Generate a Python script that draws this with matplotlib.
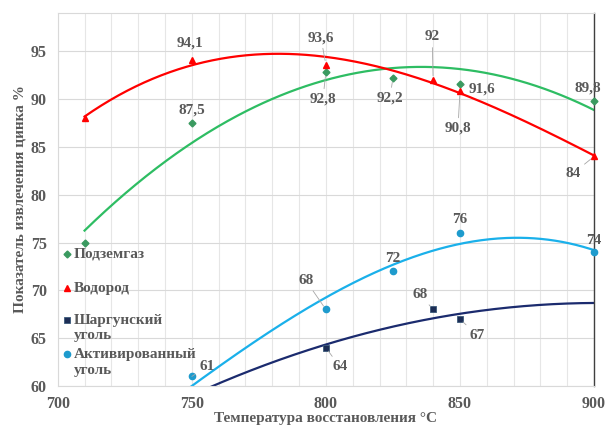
import numpy as np
import matplotlib
matplotlib.use("Agg")
import matplotlib.pyplot as plt

# ---------------- data ----------------
x_podzemgaz = [710, 750, 800, 825, 850, 900]
y_podzemgaz = [75, 87.5, 92.8, 92.2, 91.6, 89.8]

x_hydrogen = [710, 750, 800, 840, 850, 900]
y_hydrogen = [88, 94.1, 93.6, 92, 90.8, 84]

x_shargun = [800, 840, 850]
y_shargun = [64, 68, 67]

x_active = [750, 800, 825, 850, 900]
y_active = [61, 68, 72, 76, 74]

# trend lines of the two coal series
x_shargun_trend = [758, 800, 850, 900]
y_shargun_trend = [60.0, 64.4, 67.5, 68.7]
x_active_trend = [750, 800, 825, 850, 870, 900]
y_active_trend = [60.0, 69.3, 72.6, 74.9, 75.5, 74.2]

legend_labels = ["Подземгаз", "Водород", "Шаргунский\nуголь", "Активированный\nуголь"]
x_label = "Температура восстановления °C"
y_label = "Показатель извлечения цинка %"

# ---------------- style ----------------
plt.rcParams['font.family'] = ['Liberation Serif', 'DejaVu Serif']
txt_col = "#595959"
fs = 11

fig = plt.figure(figsize=(6.08, 4.29), dpi=100)
ax = fig.add_axes([0.095, 0.1002, 0.882, 0.8695])
ax.set_xlim(700, 900)
ax.set_ylim(60, 99)

ax.set_xticks(np.arange(700, 901, 50))
ax.set_xticks(np.arange(700, 901, 10), minor=True)
ax.set_yticks(np.arange(60, 96, 5))
ax.grid(axis='x', which='both', color='#e6e6e6', lw=0.8)
ax.grid(axis='y', which='major', color='#d9d9d9', lw=0.8)
ax.set_axisbelow(True)
ax.tick_params(which='both', length=0)
ax.tick_params(axis='x', pad=7)
ax.tick_params(axis='y', pad=8)
for lab in ax.get_xticklabels() + ax.get_yticklabels():
    lab.set_fontweight('bold')
    lab.set_color(txt_col)
    lab.set_fontsize(11.5)
for s in ['left', 'top', 'bottom']:
    ax.spines[s].set_color('#d9d9d9')
    ax.spines[s].set_linewidth(0.8)
ax.spines['right'].set_color('#404040')
ax.spines['right'].set_linewidth(1.0)

ax.set_xlabel(x_label, fontsize=11, fontweight='bold', color=txt_col, labelpad=0)
ax.set_ylabel(y_label, fontsize=11, fontweight='bold', color=txt_col, labelpad=3)

# ---------------- trend lines ----------------
def trend(xs, ys, deg, x0, x1):
    c = np.polyfit(xs, ys, deg)
    xx = np.linspace(x0, x1, 300)
    return xx, np.polyval(c, xx)

c_green_line, c_green_mk = '#2ebd63', '#3a9a60'
c_red = '#ff0000'
c_navy_line, c_navy_mk = '#1b2b6e', '#1c2d55'
c_blue_line, c_blue_mk = '#1ab0ea', '#1e9bcd'

xx, yy = trend(x_podzemgaz, y_podzemgaz, 2, 710, 900)
ax.plot(xx, yy, color=c_green_line, lw=1.6)
xx, yy = trend(x_hydrogen, y_hydrogen, 3, 710, 900)
ax.plot(xx, yy, color=c_red, lw=1.6)
xx, yy = trend(x_active_trend, y_active_trend, 3, 745, 900)
ax.plot(xx, yy, color=c_blue_line, lw=1.6)
xx, yy = trend(x_shargun_trend, y_shargun_trend, 2, 740, 900)
ax.plot(xx, yy, color=c_navy_line, lw=1.6)

# ---------------- markers ----------------
mk_green = dict(marker='D', color=c_green_mk, ms=3.5)
mk_red = dict(marker='^', color=c_red, ms=5)
mk_navy = dict(marker='s', color=c_navy_mk, mec='#3b5a7a', mew=0.6, ms=4)
mk_blue = dict(marker='o', color=c_blue_mk, ms=4.5)

ax.plot(x_podzemgaz, y_podzemgaz, ls='none', clip_on=False, zorder=5, **mk_green)
ax.plot(x_hydrogen, y_hydrogen, ls='none', clip_on=False, zorder=5, **mk_red)
ax.plot(x_shargun, y_shargun, ls='none', clip_on=False, zorder=5, **mk_navy)
ax.plot(x_active, y_active, ls='none', clip_on=False, zorder=5, **mk_blue)

# ---------------- data labels ----------------
def fmt(v):
    return f"{v:g}".replace('.', ',')

lead = dict(arrowstyle='-', color='#a6a6a6', lw=0.6, shrinkA=1, shrinkB=3)

# (series x, series y, index, offset px (dx, dy up), leader)
label_specs = [
    (x_hydrogen, y_hydrogen, 1, (-2, 17), False),
    (x_hydrogen, y_hydrogen, 2, (-5, 27), True),
    (x_hydrogen, y_hydrogen, 3, (-1, 43), True),
    (x_hydrogen, y_hydrogen, 4, (-2, -37), True),
    (x_hydrogen, y_hydrogen, 5, (-21, -17), True),
    (x_podzemgaz, y_podzemgaz, 1, (0, 13), False),
    (x_podzemgaz, y_podzemgaz, 2, (-3, -27), True),
    (x_podzemgaz, y_podzemgaz, 3, (-3, -20), True),
    (x_podzemgaz, y_podzemgaz, 4, (22, -5), True),
    (x_podzemgaz, y_podzemgaz, 5, (-6, 13), False),
    (x_active, y_active, 0, (15, 10), True),
    (x_active, y_active, 1, (-20, 29), True),
    (x_active, y_active, 2, (0, 13), False),
    (x_active, y_active, 3, (0, 13), False),
    (x_active, y_active, 4, (0, 12), False),
    (x_shargun, y_shargun, 0, (14, -19), True),
    (x_shargun, y_shargun, 1, (-13, 15), True),
    (x_shargun, y_shargun, 2, (17, -16), True),
]
for xs, ys, i, (dx, dy), has_lead in label_specs:
    ax.annotate(fmt(ys[i]), xy=(xs[i], ys[i]), xytext=(dx, dy), textcoords='offset pixels',
                ha='center', va='center', fontsize=fs, fontweight='bold', color=txt_col,
                arrowprops=lead if has_lead else None, annotation_clip=False, zorder=6)

# ---------------- legend (marker aligned with first text line) ----------------
legend_markers = [mk_green, mk_red, mk_navy, mk_blue]
legend_rows_y = [0.354, 0.263, 0.177, 0.0858]   # axes fraction of first line centre
for mk, lab, yrow in zip(legend_markers, legend_labels, legend_rows_y):
    ax.plot([0.0173], [yrow], transform=ax.transAxes, ls='none', clip_on=False, zorder=6, **mk)
    ax.annotate(lab, xy=(0.0304, yrow), xycoords='axes fraction', xytext=(0, 6),
                textcoords='offset pixels', ha='left', va='top', fontsize=fs,
                fontweight='bold', color=txt_col, linespacing=1.25, zorder=6)

fig.savefig("out.png", dpi=100)
